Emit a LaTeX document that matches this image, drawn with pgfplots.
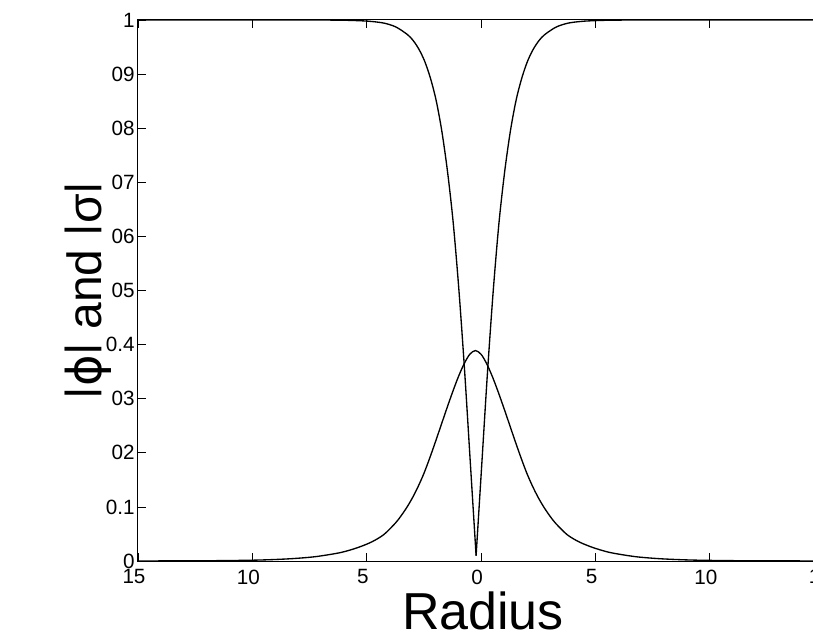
\documentclass[border=0pt]{standalone}
\usepackage{fontspec}
\setmainfont{Liberation Sans}
\newfontfamily\dejavu{DejaVu Sans}
\usepackage{graphicx}
\usepackage{pgfplots}
\pgfplotsset{compat=1.18}
\usetikzlibrary{calc}
\newcommand\vb{\raisebox{0.17em}{\scalebox{1}[0.82]{|}}}

% |phi| left branch
\pgfplotstableread{
x y
-15 1.0
-8.22 1.0
-6.22 0.9997
-5.22 0.9985
-4.72 0.997
-4.22 0.994
-3.72 0.987
-3.22 0.973
-2.97 0.962
-2.72 0.946
-2.47 0.924
-2.22 0.893
-1.97 0.852
-1.72 0.795
-1.47 0.720
-1.22 0.625
-0.97 0.500
-0.72 0.350
-0.47 0.180
-0.22 0.010
}\phileft

% |phi| right branch
\pgfplotstableread{
x y
-0.22 0.010
0.03 0.180
0.28 0.350
0.53 0.500
0.78 0.625
1.03 0.720
1.28 0.795
1.53 0.852
1.78 0.893
2.03 0.924
2.28 0.946
2.53 0.962
2.78 0.973
3.28 0.987
3.78 0.994
4.28 0.997
4.78 0.9985
5.78 0.9997
7.78 1.0
15 1.0
}\phiright

% |sigma| (bump)
\pgfplotstableread{
x y
-15 0.0001
-12.25 0.0004
-10.25 0.0013
-9.25 0.0024
-8.25 0.0044
-7.25 0.008
-6.25 0.0147
-5.75 0.020
-5.25 0.027
-4.75 0.036
-4.25 0.049
-3.75 0.070
-3.5 0.0835
-3.25 0.099
-3.0 0.117
-2.75 0.138
-2.5 0.162
-2.25 0.190
-2.0 0.220
-1.75 0.251
-1.5 0.282
-1.25 0.312
-1.0 0.340
-0.75 0.364
-0.5 0.382
-0.25 0.389
0.0 0.382
0.25 0.364
0.5 0.340
0.75 0.312
1.0 0.282
1.25 0.251
1.5 0.220
1.75 0.190
2.0 0.162
2.25 0.138
2.5 0.117
2.75 0.099
3.0 0.0835
3.25 0.070
3.75 0.049
4.25 0.036
4.75 0.027
5.25 0.020
5.75 0.0147
6.75 0.008
7.75 0.0044
8.75 0.0024
9.75 0.0013
11.75 0.0004
15 0.0001
}\sigmadata

\begin{document}
\begin{tikzpicture}
\begin{axis}[
  name=ax, at={(0,0)}, anchor=south west,
  scale only axis, width=514.7pt, height=405.75pt,
  xmin=-15, xmax=15, ymin=0, ymax=1,
  xtick={-15,-10,-5,0,5,10,15},
  xticklabels={15,10,5,0,5,10,15},
  ytick={0,0.1,0.2,0.3,0.4,0.5,0.6,0.7,0.8,0.9,1},
  yticklabels={0,0.1,02,03,0.4,05,06,07,08,09,1},
  tick label style={font=\fontsize{15.5}{15.5}\selectfont},
  xticklabel style={xshift=-3pt,yshift=-3pt},
  yticklabel style={xshift=1pt},
  major tick length=6pt,
  tick style={black,line width=0.6pt},
  axis line style={black,line width=0.75pt},
  every axis x label/.style={at={(axis description cs:0.5027,-0.126)},anchor=base},
  every axis y label/.style={at={(axis description cs:-0.0529,0.5)},rotate=90,anchor=base},
  xlabel={\fontsize{39}{39}\selectfont Radius},
  ylabel={\fontsize{36}{36}\selectfont \vb{\dejavu ϕ}\vb{} and \vb σ\vb},
]
\addplot[black,line width=1pt,smooth,tension=0.5] table {\phileft};
\addplot[black,line width=1pt,smooth,tension=0.5] table {\phiright};
\addplot[black,line width=1pt,smooth,tension=0.5] table {\sigmadata};
\end{axis}
\pgfresetboundingbox
\path[use as bounding box] ($(ax.south west)+(-103.5pt,-59.25pt)$) rectangle ($(ax.south west)+(506.25pt,420.75pt)$);
\end{tikzpicture}
\end{document}
